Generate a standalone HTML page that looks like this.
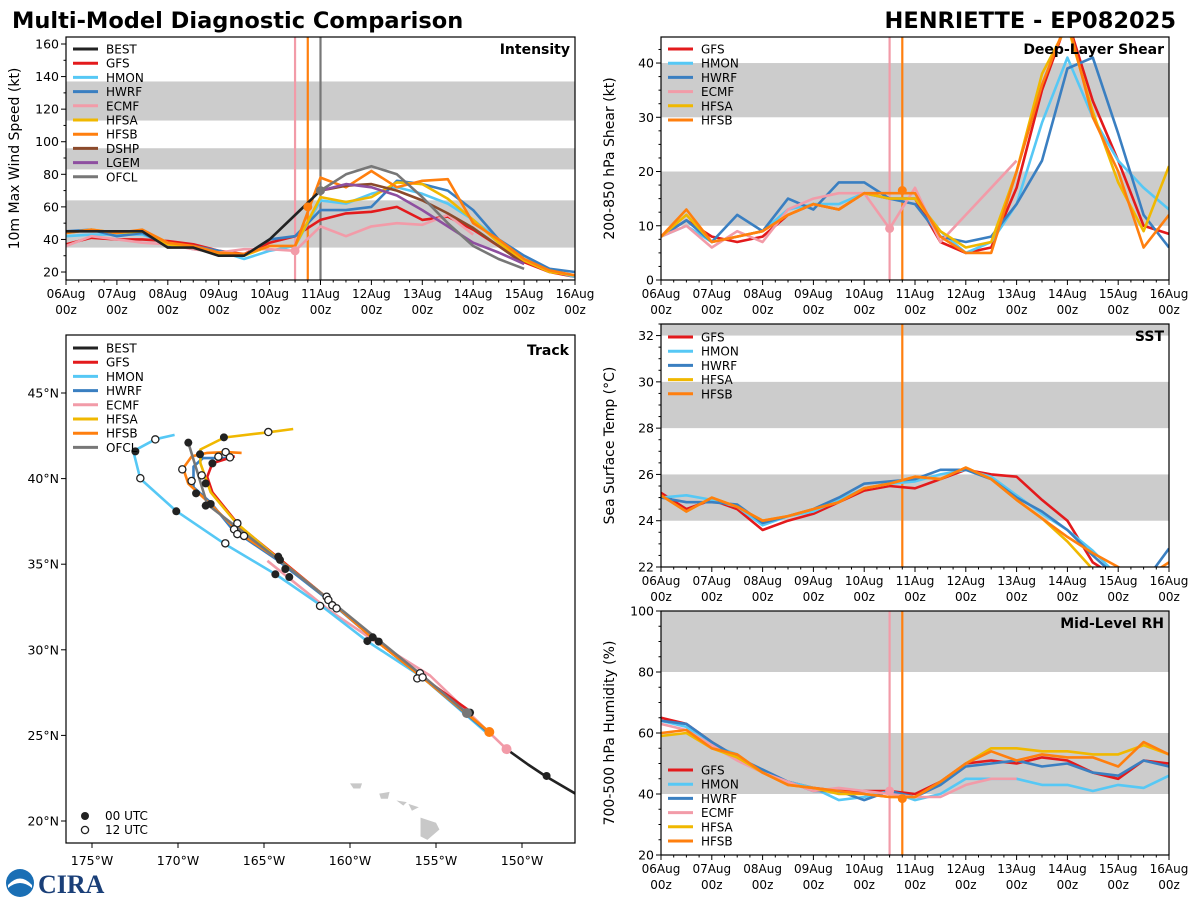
<!DOCTYPE html>
<html><head><meta charset="utf-8"><style>
body{margin:0;background:#fff;}
svg{display:block;font-family:"DejaVu Sans","Liberation Sans",sans-serif;}
</style></head><body>
<svg id="s" width="1200" height="900" viewBox="0 0 1200 900">
<text x="12" y="28" font-size="22.5" font-weight="bold">Multi-Model Diagnostic Comparison</text>
<text x="1176" y="28" font-size="22.5" font-weight="bold" text-anchor="end">HENRIETTE - EP082025</text>
<g>
<circle cx="20" cy="883" r="14" fill="#1a6fb5"/>
<path d="M8 885 Q20 872 32 885 L32 888 Q20 878 8 888Z" fill="#fff"/>
<text x="38" y="893" font-size="26" font-weight="bold" fill="#1a3f78" font-family="Liberation Serif,serif">CIRA</text>
</g>
</svg>
<script>
const hours12=[0,12,24,36,48,60,72,84,96,108,120,132,144,156,168,180,192,204,216,228,240];
const xTickLabels=["06Aug","07Aug","08Aug","09Aug","10Aug","11Aug","12Aug","13Aug","14Aug","15Aug","16Aug"];
// Intensity (kt)
const intBEST=[45,45,45,45,35,35,30,30,40,55,70];
const intGFS=[37,41,40,40,39,37,33,31,38,42,52,56,57,60,52,54,46,36,26,20,17];
const intHMON=[42,43,43,43,38,34,33,28,33,36,64,62,68,72,68,62,52,40,28,21,17];
const intHWRF=[45,46,42,44,36,36,33,30,40,42,58,58,60,76,74,70,58,40,30,22,20];
const intECMF=[36,42,40,38,37,34,32,34,34,33,48,42,48,50,49,55,43];
const intHFSA=[44,46,44,45,37,35,31,30,36,36,66,63,66,75,74,65,52,38,27,20,18];
const intHFSB=[44,46,44,46,38,36,32,31,36,36,78,72,82,72,76,77,50,40,28,21,18];
const dshpHours=[120,132,144,156,168,180,192,204,216];
const intDSHP=[70,73,74,70,64,56,47,36,25];
const intLGEM=[70,74,72,67,58,48,38,32,25];
const intOFCL=[70,80,85,80,66,50,36,28,22];
// Shear (kt)
const shGFS=[8,11,8,7,8,12,14,13,16,15,15,7,5,6,17,35,48,33,22,10,8.5];
const shHMON=[8,10,7,8,9,13,14,14,16,15,15,9,5,7,14,29,41,30,22,17,13];
const shHWRF=[8,11,7,12,9,15,13,18,18,15,14,8,7,8,14,22,39,41,27,12,6];
const shECMF=[8,10,6,9,7,13,15,16,16,9.5,17,7,12,17,22];
const shHFSA=[8,12,7,8,9,12,14,13,16,15,15,9,6,7,20,38,47,31,18,9,21];
const shHFSB=[8,13,7,8,9,12,14,13,16,16,16,8,5,5,20,36,48,30,20,6,12];
// SST (C)
const sstGFS=[25.2,24.5,24.9,24.5,23.6,24.0,24.3,24.8,25.3,25.5,25.4,25.8,26.2,26.0,25.9,24.9,24.0,22.2,21.5];
const sstHMON=[25.0,25.1,24.9,24.6,23.8,24.2,24.4,24.9,25.4,25.6,25.7,26.0,26.2,25.9,25.1,24.3,23.6,22.7,21.6];
const sstHWRF=[25.0,24.8,24.8,24.7,23.9,24.2,24.5,25.0,25.6,25.7,25.8,26.2,26.2,25.8,25.0,24.4,23.6,22.5,21.5,21.3,22.8];
const sstHFSA=[25.1,24.4,25.0,24.6,24.0,24.2,24.5,24.8,25.4,25.6,25.9,25.8,26.3,25.8,24.9,24.1,23.1,21.9,21.0];
const sstHFSB=[25.1,24.4,25.0,24.6,24.0,24.2,24.5,24.8,25.4,25.6,25.9,25.8,26.3,25.8,24.9,24.1,23.3,22.6,22.0,21.5,22.2];
// RH (%)
const rhGFS=[65,63,57,52,47,44,42,41,41,41,40,44,50,51,50,52,51,47,45,51,50];
const rhHMON=[64,62,56,53,47,44,42,38,39,41,38,40,45,45,45,43,43,41,43,42,46];
const rhHWRF=[64,63,57,52,48,44,41,41,38,41,39,43,49,50,51,49,50,47,46,51,49];
const rhECMF=[63,61,56,51,47,44,41,42,41,40,39,39,43,45,45];
const rhHFSA=[59,60,55,52,47,43,42,40,40,39,39,44,50,55,55,54,54,53,53,56,53];
const rhHFSB=[60,61,55,53,47,43,42,41,40,39,39,44,50,54,51,53,52,52,49,57,53];
// Track [lon,lat]
const trBEST=[[-146.9,21.6],[-148.6,22.6],[-149.65,23.3],[-150.9,24.2]];
const trGFS=[[-153.0,26.4],[-155.8,28.4],[-158.7,30.7],[-161.3,33.0],[-164.2,35.4],[-166.4,37.2],[-168.0,39.2],[-168.3,40.1],[-168.0,40.9],[-166.7,41.3]];
const trHMON=[[-152.0,25.1],[-155.8,28.4],[-159.0,30.5],[-161.7,32.6],[-164.3,34.4],[-167.3,36.2],[-170.1,38.1],[-172.2,40.0],[-172.6,41.6],[-171.3,42.3],[-170.2,42.55]];
const trHWRF=[[-152.0,25.2],[-155.8,28.4],[-158.7,30.7],[-161.5,33.1],[-164.3,35.3],[-166.8,37.0],[-168.1,38.6],[-169.1,39.5],[-169.1,40.7],[-168.55,41.2],[-166.8,41.2]];
const trECMF=[[-150.9,24.2],[-155.35,28.5],[-158.7,30.6],[-161.2,32.3],[-164.8,35.2]];
const trHFSA=[[-151.9,25.2],[-155.8,28.4],[-158.7,30.7],[-161.3,33.0],[-164.1,35.25],[-166.6,37.4],[-168.1,39.2],[-168.7,40.9],[-168.7,41.7],[-167.3,42.4],[-164.8,42.7],[-163.3,42.9]];
const trHFSB=[[-151.9,25.2],[-155.8,28.4],[-158.7,30.7],[-161.3,33.0],[-164.1,35.25],[-166.4,36.8],[-168.1,38.5],[-169.4,39.7],[-169.7,40.6],[-169.2,41.3],[-168.3,41.5],[-167.2,41.55],[-166.3,41.5]];
const trOFCL=[[-153.2,26.3],[-155.8,28.5],[-158.55,30.75],[-161.3,33.0],[-163.95,35.1],[-168.3,38.5],[-169.4,42.1]];
const dots00=[[-172.48,41.59],[-170.1,38.09],[-169.4,42.1],[-167.33,42.41],[-168.72,41.42],[-168.0,40.89],[-168.39,39.72],[-168.95,39.14],[-168.1,38.52],[-168.39,38.42],[-164.17,35.44],[-164.07,35.25],[-163.76,34.72],[-164.34,34.41],[-163.53,34.25],[-158.68,30.73],[-158.99,30.51],[-158.33,30.48],[-153.02,26.33],[-148.57,22.63]];
const dots12=[[-171.32,42.29],[-172.19,40.02],[-164.75,42.72],[-167.23,41.55],[-167.65,41.28],[-166.98,41.24],[-169.75,40.54],[-169.21,39.86],[-168.62,40.19],[-166.55,37.39],[-166.74,37.04],[-166.55,36.76],[-166.16,36.65],[-167.25,36.22],[-161.36,33.1],[-161.26,32.91],[-161.03,32.6],[-161.74,32.56],[-160.78,32.42],[-155.93,28.63],[-156.09,28.33],[-155.78,28.39]];
const lonTicks=[-175,-170,-165,-160,-155,-150];
const latTicks=[45,40,35,30,25,20];

const C={BEST:"#222",GFS:"#e31a1c",HMON:"#56c8f5",HWRF:"#3a7fc1",ECMF:"#f29ba8",HFSA:"#f0b800",HFSB:"#ff7f0e",DSHP:"#8b4a2b",LGEM:"#8e4fa0",OFCL:"#777"};
const NS="http://www.w3.org/2000/svg";
const svg=document.getElementById('s');
function el(tag,attrs,parent){const e=document.createElementNS(NS,tag);for(const k in attrs)e.setAttribute(k,attrs[k]);(parent||svg).appendChild(e);return e;}

function timePanel(p){
  const g=el('g',{});
  
  
  const X=h=>p.x+h/240*p.w, Y=v=>p.y+p.h-(v-p.ymin)/(p.ymax-p.ymin)*p.h;
  const cp='cp'+p.name; const d=el('clipPath',{id:cp},g); el('rect',{x:p.x,y:p.y,width:p.w,height:p.h},d);
  p.bands.forEach(b=>{const r=el('rect',{x:p.x,y:Y(Math.min(b[1],p.ymax)),width:p.w,height:Y(b[0])-Y(Math.min(b[1],p.ymax)),fill:"#cccccc"},g);
    });
  const lg=el('g',{'clip-path':`url(#${cp})`},g);
  p.vlines.forEach(v=>el('line',{x1:X(v[0]),x2:X(v[0]),y1:p.y,y2:p.y+p.h,stroke:v[1],'stroke-width':2.2},lg));
  p.series.forEach(s=>{
    const hrs=s.h||hours12;
    const pts=s.v.map((v,i)=>X(hrs[i]).toFixed(1)+','+Y(v).toFixed(1)).join(' ');
    const pl=el('polyline',{points:pts,fill:'none',stroke:C[s.k],'stroke-width':2.6,'stroke-linejoin':'round'},lg);
    
    
  });
  (p.dots||[]).forEach(dd=>el('circle',{cx:X(dd[0]),cy:Y(dd[1]),r:4.5,fill:C[dd[2]]},lg));
  el('rect',{x:p.x,y:p.y,width:p.w,height:p.h,fill:'none',stroke:'#000','stroke-width':1.2},g);
  for(let h=0;h<=240;h+=6){const maj=h%24===0;el('line',{x1:X(h),x2:X(h),y1:p.y+p.h,y2:p.y+p.h+(maj?5:2.5),stroke:'#000','stroke-width':1},g);}
  xTickLabels.forEach((t,i)=>{const x=X(i*24);
    const a=el('text',{x:x,y:p.y+p.h+18,'font-size':12,'text-anchor':'middle'},g);a.textContent=t;
    const b=el('text',{x:x,y:p.y+p.h+34,'font-size':12,'text-anchor':'middle'},g);b.textContent='00z';});
  for(let v=Math.ceil(p.ymin/p.minor)*p.minor;v<=p.ymax+1e-6;v+=p.minor){const maj=Math.abs(v/p.major-Math.round(v/p.major))<1e-6;
    el('line',{x1:p.x,x2:p.x-(maj?5:2.5),y1:Y(v),y2:Y(v),stroke:'#000','stroke-width':1},g);}
  p.yticks.forEach(v=>{const t=el('text',{x:p.x-7,y:Y(v)+4.5,'font-size':12.5,'text-anchor':'end'},g);t.textContent=v;});
  const yl=el('text',{x:0,y:0,'font-size':14,'text-anchor':'middle',transform:`translate(${p.x-47},${p.y+p.h/2}) rotate(-90)`},g);yl.textContent=p.ylabel;
  
  const tt=el('text',{x:p.x+p.w-5,y:p.y+17,'font-size':14,'font-weight':'bold','text-anchor':'end'},g);tt.textContent=p.title;
  legend(g,p.x+7,p.legendY,p.legend);
}
function legend(g,x,y,keys){
  const lg=el('g',{},g);
  
  
  keys.forEach((k,i)=>{const yy=y+i*14.2;
    el('line',{x1:x,x2:x+25,y1:yy,y2:yy,stroke:C[k],'stroke-width':3},lg);
    const t=el('text',{x:x+33,y:yy+4.5,'font-size':12},lg);t.textContent=k;});
}
timePanel({name:'intensity-panel',x:66,y:37,w:509,h:243,ymin:15.1,ymax:164.3,major:20,minor:10,yticks:[20,40,60,80,100,120,140,160],
  ylabel:'10m Max Wind Speed (kt)',title:'Intensity',bands:[[35,64],[83,96],[113,137]],vlines:[[108,C.ECMF],[114,C.HFSB],[120,C.OFCL]],
  series:[{k:'GFS',v:intGFS},{k:'HMON',v:intHMON},{k:'HWRF',v:intHWRF},{k:'ECMF',v:intECMF},{k:'HFSA',v:intHFSA},{k:'HFSB',v:intHFSB},{k:'DSHP',v:intDSHP,h:dshpHours},{k:'LGEM',v:intLGEM,h:dshpHours},{k:'OFCL',v:intOFCL,h:dshpHours},{k:'BEST',v:intBEST}],
  dots:[[108,33,'ECMF'],[114,60,'HFSB'],[120,70,'OFCL']],
  legendY:49,legend:['BEST','GFS','HMON','HWRF','ECMF','HFSA','HFSB','DSHP','LGEM','OFCL']});
timePanel({name:'shear-panel',x:661,y:37,w:508,h:243,ymin:0,ymax:44.8,major:10,minor:2.5,yticks:[0,10,20,30,40],
  ylabel:'200-850 hPa Shear (kt)',title:'Deep-Layer Shear',bands:[[10,20],[30,40]],vlines:[[108,C.ECMF],[114,C.HFSB]],
  series:[{k:'GFS',v:shGFS},{k:'HMON',v:shHMON},{k:'HWRF',v:shHWRF},{k:'ECMF',v:shECMF},{k:'HFSA',v:shHFSA},{k:'HFSB',v:shHFSB}],
  dots:[[108,9.5,'ECMF'],[114,16.5,'HFSB']],legendY:49,legend:['GFS','HMON','HWRF','ECMF','HFSA','HFSB']});
timePanel({name:'sst-panel',x:661,y:324,w:508,h:243,ymin:22,ymax:32.5,major:2,minor:0.5,yticks:[22,24,26,28,30,32],
  ylabel:'Sea Surface Temp (°C)',title:'SST',bands:[[24,26],[28,30],[32,34]],vlines:[[114,C.HFSB]],
  series:[{k:'GFS',v:sstGFS},{k:'HMON',v:sstHMON},{k:'HWRF',v:sstHWRF},{k:'HFSA',v:sstHFSA},{k:'HFSB',v:sstHFSB}],
  legendY:337,legend:['GFS','HMON','HWRF','HFSA','HFSB']});
timePanel({name:'rh-panel',x:661,y:611,w:508,h:244,ymin:20,ymax:100,major:20,minor:5,yticks:[20,40,60,80,100],
  ylabel:'700-500 hPa Humidity (%)',title:'Mid-Level RH',bands:[[40,60],[80,100]],vlines:[[108,C.ECMF],[114,C.HFSB]],
  series:[{k:'GFS',v:rhGFS},{k:'HMON',v:rhHMON},{k:'HWRF',v:rhHWRF},{k:'ECMF',v:rhECMF},{k:'HFSA',v:rhHFSA},{k:'HFSB',v:rhHFSB}],
  dots:[[108,41,'ECMF'],[114,38.5,'HFSB']],legendY:770,legend:['GFS','HMON','HWRF','ECMF','HFSA','HFSB']});

(function(){
  const p={x:66,y:335,w:509,h:508};
  const g=el('g',{});
  
  
  const X=lon=>92+(lon+175)*17.2, Y=lat=>393+(45-lat)*17.12;
  const d=el('clipPath',{id:'cptr'},g);el('rect',{x:p.x,y:p.y,width:p.w,height:p.h},d);
  const lg=el('g',{'clip-path':'url(#cptr)'},g);
  const isl=[[[-158.3,21.6],[-157.7,21.7],[-157.8,21.3],[-158.2,21.3]],[[-160.0,22.2],[-159.3,22.2],[-159.4,21.9],[-159.8,21.9]],[[-157.3,21.2],[-156.7,21.1],[-156.9,20.9]],[[-156.6,21.0],[-156.0,20.8],[-156.4,20.6]],[[-155.9,20.2],[-155.0,19.9],[-154.8,19.5],[-155.5,18.9],[-155.9,19.1]]];
  isl.forEach(s=>{const pg=el('polygon',{points:s.map(q=>X(q[0])+','+Y(q[1])).join(' '),fill:'#c8c8c8'},lg);
    });
  const tr=[['ECMF',trECMF],['HMON',trHMON],['HWRF',trHWRF],['GFS',trGFS],['HFSA',trHFSA],['HFSB',trHFSB],['OFCL',trOFCL],['BEST',trBEST]];
  tr.forEach(t=>{const pl=el('polyline',{points:t[1].map(q=>X(q[0]).toFixed(1)+','+Y(q[1]).toFixed(1)).join(' '),fill:'none',stroke:C[t[0]],'stroke-width':2.6,'stroke-linejoin':'round'},lg);
    });
  dots00.forEach(q=>el('circle',{cx:X(q[0]),cy:Y(q[1]),r:4,fill:'#222'},lg));
  dots12.forEach(q=>el('circle',{cx:X(q[0]),cy:Y(q[1]),r:3.6,fill:'#fff',stroke:'#222','stroke-width':1.3},lg));
  el('circle',{cx:X(trOFCL[0][0]),cy:Y(trOFCL[0][1]),r:5,fill:C.OFCL},lg);
  el('circle',{cx:X(trHFSB[0][0]),cy:Y(trHFSB[0][1]),r:5,fill:C.HFSB},lg);
  el('circle',{cx:X(trECMF[0][0]),cy:Y(trECMF[0][1]),r:5,fill:C.ECMF},lg);
  el('rect',{x:p.x,y:p.y,width:p.w,height:p.h,fill:'none',stroke:'#000','stroke-width':1.2},g);
  lonTicks.forEach(l=>{el('line',{x1:X(l),x2:X(l),y1:p.y+p.h,y2:p.y+p.h+5,stroke:'#000'},g);
    const t=el('text',{x:X(l),y:p.y+p.h+22,'font-size':12.5,'text-anchor':'middle'},g);t.textContent=Math.abs(l)+'°W';});
  latTicks.forEach(l=>{el('line',{x1:p.x,x2:p.x-5,y1:Y(l),y2:Y(l),stroke:'#000'},g);
    const t=el('text',{x:p.x-7,y:Y(l)+4.5,'font-size':12.5,'text-anchor':'end'},g);t.textContent=l+'°N';});
  const tt=el('text',{x:p.x+p.w-6,y:p.y+20,'font-size':14,'font-weight':'bold','text-anchor':'end'},g);tt.textContent='Track';
  legend(g,73,348,['BEST','GFS','HMON','HWRF','ECMF','HFSA','HFSB','OFCL']);
  const ml=el('g',{},g);
  
  
  el('circle',{cx:85,cy:816,r:4,fill:'#222'},ml);
  el('circle',{cx:85,cy:830,r:3.6,fill:'#fff',stroke:'#222','stroke-width':1.3},ml);
  let t=el('text',{x:105,y:820,'font-size':12},ml);t.textContent='00 UTC';
  t=el('text',{x:105,y:834,'font-size':12},ml);t.textContent='12 UTC';
})();
</script>
</body></html>
